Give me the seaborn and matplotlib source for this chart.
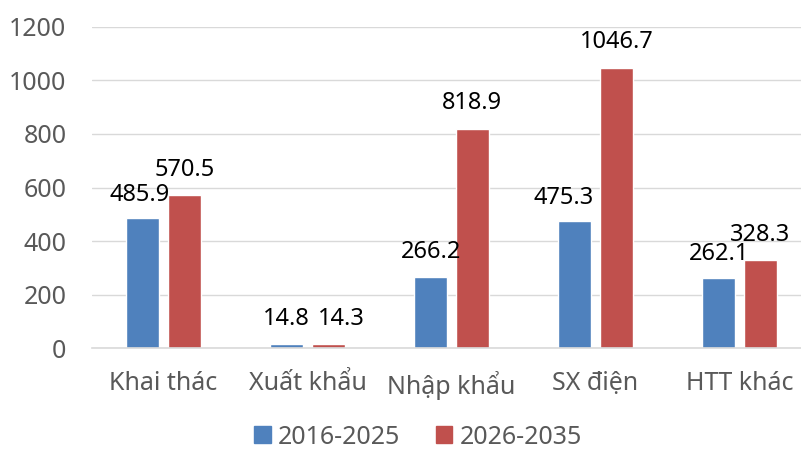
import matplotlib
matplotlib.use("Agg")
import matplotlib.pyplot as plt
import seaborn as sns
import pandas as pd

categories = ["Khai thác", "Xuất khẩu", "Nhập khẩu", "SX điện", "HTT khác"]
series_names = ["2016-2025", "2026-2035"]
values_2016_2025 = [485.9, 14.8, 266.2, 475.3, 262.1]
values_2026_2035 = [570.5, 14.3, 818.9, 1046.7, 328.3]
y_ticks = [0, 200, 400, 600, 800, 1000, 1200]

colors = ["#4F81BD", "#C0504D"]

df = pd.DataFrame({
    "cat": categories * 2,
    "period": [series_names[0]] * len(categories) + [series_names[1]] * len(categories),
    "val": values_2016_2025 + values_2026_2035,
})

sns.set_theme(style="white")
plt.rcParams["font.family"] = ["Noto Sans", "DejaVu Sans"]

fig = plt.figure(figsize=(8.01, 4.5), dpi=100)
ax = fig.add_axes([91.5 / 801, (450 - 348.3) / 450, 720 / 801, (348.3 - 26.7) / 450])

sns.barplot(data=df, x="cat", y="val", hue="period", palette=colors,
            saturation=1, width=0.58, gap=0.22, ax=ax, legend=False)

ax.set_ylim(0, 1200)
ax.set_yticks(y_ticks)
ax.set_yticklabels([str(t) for t in y_ticks])
ax.set_xlabel("")
ax.set_ylabel("")
ax.grid(axis="y", color="#D9D9D9", linewidth=1)
ax.set_axisbelow(True)
for s in ["top", "right", "left"]:
    ax.spines[s].set_visible(False)
ax.spines["bottom"].set_color("#D9D9D9")
ax.spines["bottom"].set_linewidth(1.2)
ax.tick_params(axis="both", length=0, labelsize=18, colors="#595959")
ax.tick_params(axis="y", pad=18)
ax.tick_params(axis="x", pad=16)

series_vals = [values_2016_2025, values_2026_2035]
offsets = {(0, 0): (-2, 12), (1, 1): (9, 14), (0, 3): (-8, 12), (0, 4): (0, 13)}
for i, container in enumerate(ax.containers):
    for j, bar in enumerate(container):
        dx, dy = offsets.get((i, j), (0, 14))
        ax.annotate(f"{series_vals[i][j]:.1f}",
                    (bar.get_x() + bar.get_width() / 2, bar.get_height()),
                    xytext=(dx, dy), textcoords="offset points",
                    ha="center", va="baseline", fontsize=17, color="black")

handles = [plt.Rectangle((0, 0), 1, 1, color=c) for c in colors]
fig.legend(handles, series_names, loc="center", bbox_to_anchor=(0.522, 1 - 437 / 450),
           ncol=2, frameon=False, fontsize=18, handlelength=0.65, handleheight=0.65,
           handletextpad=0.3, columnspacing=1.4, labelcolor="#595959",
           borderpad=0, borderaxespad=0)

fig.savefig("out.png", dpi=100)
